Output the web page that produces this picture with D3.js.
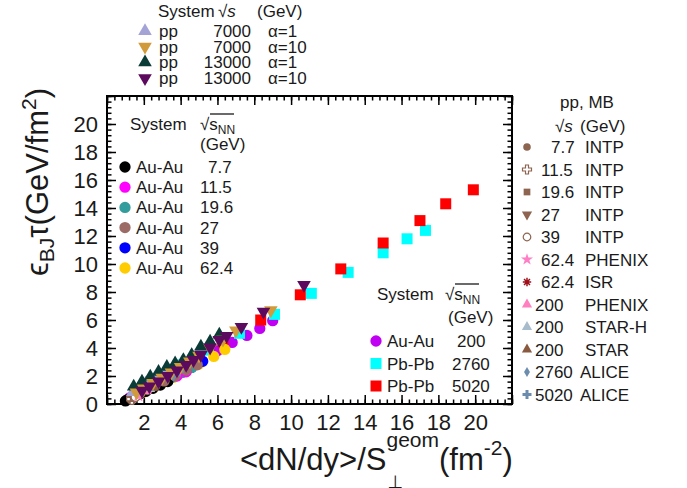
<!DOCTYPE html>
<html>
<head>
<meta charset="utf-8">
<script src="https://cdn.jsdelivr.net/npm/d3@7"></script>
<style>
  body { margin: 0; background: #fff; }
  text { font-family: "Liberation Sans", Arial, Helvetica, sans-serif; fill: #1a1a1a; }
</style>
</head>
<body>
<svg id="plot"></svg>
<script>
// ---- axes
var xMax = 22, yMax = 22;
var xTickLabels = [2, 4, 6, 8, 10, 12, 14, 16, 18, 20];
var yTickLabels = [0, 2, 4, 6, 8, 10, 12, 14, 16, 18, 20];

// ---- Au-Au BES (sqrt(sNN) = 7.7 ... 62.4 GeV)
var auAu7X  = [3.3, 2.9, 2.5, 2.1, 1.75, 1.45, 1.25, 1.1, 1.0];
var auAu7Y  = [1.6, 1.35, 1.12, 0.9, 0.7, 0.52, 0.4, 0.3, 0.22];
var auAu11X = [4.3, 3.8, 3.3, 2.8, 2.3, 1.9, 1.6, 1.35, 1.2];
var auAu11Y = [2.3, 2.0, 1.7, 1.38, 1.08, 0.85, 0.66, 0.52, 0.42];
var auAu19X = [4.6, 4.1, 3.5, 3.0, 2.5, 2.1, 1.75, 1.5, 1.3];
var auAu19Y = [2.6, 2.25, 1.9, 1.55, 1.25, 0.98, 0.76, 0.6, 0.48];
var auAu27X = [4.9, 4.3, 3.7, 3.1, 2.6, 2.2, 1.8, 1.55, 1.35];
var auAu27Y = [2.8, 2.42, 2.02, 1.65, 1.33, 1.05, 0.8, 0.63, 0.5];
var auAu39X = [5.2, 4.6, 3.9, 3.3, 2.8, 2.3, 1.9, 1.6, 1.4];
var auAu39Y = [3.05, 2.62, 2.18, 1.78, 1.44, 1.12, 0.86, 0.67, 0.53];
var auAu62X = [6.4, 5.8, 5.0, 4.3, 3.6, 3.0, 2.5, 2.0, 1.7];
var auAu62Y = [3.9, 3.4, 2.85, 2.35, 1.9, 1.5, 1.15, 0.85, 0.68];

// ---- Au-Au 200, Pb-Pb 2760, Pb-Pb 5020
var auAu200X  = [9.0, 8.3, 7.6, 6.8, 6.0, 5.1, 4.3, 3.5, 2.8, 2.2, 1.7];
var auAu200Y  = [5.95, 5.4, 4.9, 4.4, 3.8, 3.15, 2.6, 2.05, 1.58, 1.18, 0.86];
var pbPb2760X = [17.3, 16.3, 15.0, 13.1, 11.1, 9.1, 7.2, 5.5, 4.1, 2.9];
var pbPb2760Y = [12.4, 11.8, 10.8, 9.4, 7.9, 6.4, 5.05, 3.85, 2.8, 1.9];
var pbPb5020X = [19.9, 18.4, 17.0, 15.0, 12.7, 10.5, 8.35, 6.3, 4.8, 3.5, 2.4];
var pbPb5020Y = [15.3, 14.3, 13.1, 11.5, 9.65, 7.8, 6.0, 4.45, 3.3, 2.3, 1.5];

// ---- pp high multiplicity, 7 and 13 TeV
var pp7a1X   = [5.1, 4.6, 4.1, 3.6, 3.1, 2.6, 2.1, 1.7, 1.4];
var pp7a1Y   = [3.95, 3.5, 3.05, 2.65, 2.25, 1.85, 1.45, 1.1, 0.85];
var pp7a10X  = [8.9, 7.0, 6.3, 5.6, 5.0, 4.5, 4.0, 3.5, 3.0, 2.5, 2.0, 1.6];
var pp7a10Y  = [6.7, 5.25, 4.6, 4.0, 3.45, 3.05, 2.65, 2.25, 1.88, 1.5, 1.12, 0.82];
var pp13a1X  = [6.1, 5.6, 5.1, 4.6, 4.15, 3.7, 3.25, 2.8, 2.35, 1.9, 1.45];
var pp13a1Y  = [4.95, 4.45, 4.1, 3.5, 3.14, 2.9, 2.65, 2.3, 1.95, 1.6, 1.25];
var pp13a10X = [10.7, 8.5, 7.3, 6.5, 6.1, 5.6, 5.1, 4.7, 4.3, 3.8, 3.3, 2.8, 2.3, 1.9];
var pp13a10Y = [8.5, 6.6, 5.5, 4.86, 4.57, 4.05, 3.5, 3.14, 2.79, 2.4, 2.0, 1.62, 1.25, 0.95];

// ---- pp minimum bias
var mbEnergies = ["7.7", "11.5", "19.6", "27", "39", "62.4", "62.4", "200", "200", "200", "2760", "5020"];
var mbSources  = ["INTP", "INTP", "INTP", "INTP", "INTP", "PHENIX", "ISR", "PHENIX", "STAR-H", "STAR", "ALICE", "ALICE"];
var mbX = [1.3, 1.35, 1.45, 1.5, 1.55, 1.7, 1.95, 2.1, 2.3, 2.5, 3.6, 3.9];
var mbY = [0.3, 0.35, 0.42, 0.45, 0.5, 0.6, 1.0, 0.95, 1.1, 1.2, 2.1, 2.35];

// ---- legend texts
var ppSystems  = ["pp", "pp", "pp", "pp"];
var ppEnergies = ["7000", "7000", "13000", "13000"];
var ppAlphas   = ["\u03b1=1", "\u03b1=10", "\u03b1=1", "\u03b1=10"];
var besSystems  = ["Au-Au", "Au-Au", "Au-Au", "Au-Au", "Au-Au", "Au-Au"];
var besEnergies = ["7.7", "11.5", "19.6", "27", "39", "62.4"];
var hiSystems  = ["Au-Au", "Pb-Pb", "Pb-Pb"];
var hiEnergies = ["200", "2760", "5020"];

// ---- styles
var ppStyle  = [{shape: "triUp", color: "#a3a3d6"}, {shape: "triDown", color: "#d19b3c"},
                {shape: "triUp", color: "#0b3b36"}, {shape: "triDown", color: "#5c0a5e"}];
var besStyle = ["#000000", "#ff00ff", "#339c9c", "#9c6b66", "#0000ff", "#ffcc00"];
var hiStyle  = [{shape: "circle", color: "#c000f2"}, {shape: "square", color: "#00ffff"}, {shape: "square", color: "#ff0000"}];
var mbStyle  = [{shape: "circle", color: "#8c6450"}, {shape: "openCross", color: "#8c6450"},
                {shape: "square", color: "#8c6450"}, {shape: "triDown", color: "#8c6450"},
                {shape: "openCircle", color: "#8c6450"}, {shape: "star", color: "#ff7fc4"},
                {shape: "asterisk", color: "#a0101a"}, {shape: "triUp", color: "#ff7fbf"},
                {shape: "triUp", color: "#a8bccc"}, {shape: "triUp", color: "#8a5a40"},
                {shape: "diamond", color: "#6c8cae"}, {shape: "cross", color: "#6c8cae"}];

var W = 687, H = 488;
var x = d3.scaleLinear().domain([0, xMax]).range([107, 512]);
var y = d3.scaleLinear().domain([0, yMax]).range([404, 96]);

var svg = d3.select('#plot').attr('width', W).attr('height', H);

var symTypes = {circle: d3.symbolCircle, openCircle: d3.symbolCircle, square: d3.symbolSquare,
  triUp: d3.symbolTriangle, triDown: d3.symbolTriangle, cross: d3.symbolCross,
  openCross: d3.symbolCross, diamond: d3.symbolDiamond, star: d3.symbolStar};
var bigSize = {circle: 100, square: 121, triUp: 80, triDown: 80};

function marker(g, shape, color, size, cx, cy) {
  if (shape === 'asterisk') {
    var r = Math.sqrt(size) / 1.6, p = '';
    for (var k = 0; k < 4; k++) {
      var a = k * Math.PI / 4;
      p += 'M' + (-r * Math.cos(a)) + ',' + (-r * Math.sin(a)) + 'L' + (r * Math.cos(a)) + ',' + (r * Math.sin(a));
    }
    g.append('path').attr('d', p).attr('transform', 'translate(' + cx + ',' + cy + ')')
      .attr('stroke', color).attr('stroke-width', 1.5).attr('fill', 'none');
    return;
  }
  var open = shape === 'openCircle' || shape === 'openCross';
  g.append('path')
    .attr('d', d3.symbol().type(symTypes[shape]).size(size)())
    .attr('transform', 'translate(' + cx + ',' + cy + ')' + (shape === 'triDown' ? ' rotate(180)' : ''))
    .attr('fill', open ? '#fff' : color)
    .attr('stroke', open ? color : 'none')
    .attr('stroke-width', 1.2);
}

// ---- frame and ticks (ticks inside on all four sides)
var axes = svg.append('g');
function ticks(axis, tr, vals, len, fmt) {
  var g = axes.append('g').attr('transform', tr)
    .call(axis.tickValues(vals).tickSize(-len).tickPadding(10).tickFormat(fmt));
  g.select('.domain').remove();
  g.selectAll('line').attr('stroke', '#000').attr('stroke-width', 1.5);
  g.selectAll('text').style('font-size', '22px').attr('fill', '#1a1a1a')
    .style('font-family', '"Liberation Sans", Arial, sans-serif');
  return g;
}
var major = d3.range(0, 22.01, 2), minor = d3.range(0, 22.01, 0.4);
var none = function() { return ''; };
ticks(d3.axisBottom(x), 'translate(0,404)', minor, 4.5, none);
ticks(d3.axisBottom(x), 'translate(0,404)', major, 9, function(d) { return xTickLabels.indexOf(d) >= 0 ? d : ''; });
ticks(d3.axisTop(x), 'translate(0,96)', minor, 4.5, none);
ticks(d3.axisTop(x), 'translate(0,96)', major, 9, none);
ticks(d3.axisLeft(y), 'translate(107,0)', minor, 4.5, none);
ticks(d3.axisLeft(y), 'translate(107,0)', major, 9, function(d) { return yTickLabels.indexOf(d) >= 0 ? d : ''; })
  .selectAll('text').attr('x', -9);
ticks(d3.axisRight(y), 'translate(512,0)', minor, 4.5, none);
ticks(d3.axisRight(y), 'translate(512,0)', major, 9, none);
axes.append('rect').attr('x', 107).attr('y', 96).attr('width', 405).attr('height', 308)
  .attr('fill', 'none').attr('stroke', '#000').attr('stroke-width', 2);

// ---- data points
var pts = svg.append('g');
function drawSeries(xs, ys, shape, color, size) {
  xs.forEach(function(v, i) { marker(pts, shape, color, size, x(v), y(ys[i])); });
}
drawSeries(auAu200X, auAu200Y, 'circle', hiStyle[0].color, bigSize.circle);
drawSeries(pbPb2760X, pbPb2760Y, 'square', hiStyle[1].color, bigSize.square);
drawSeries(pbPb5020X, pbPb5020Y, 'square', hiStyle[2].color, bigSize.square);
[[auAu62X, auAu62Y, 5], [auAu39X, auAu39Y, 4], [auAu19X, auAu19Y, 2],
 [auAu11X, auAu11Y, 1], [auAu7X, auAu7Y, 0], [auAu27X, auAu27Y, 3]].forEach(function(s) {
  drawSeries(s[0], s[1], 'circle', besStyle[s[2]], bigSize.circle);
});
mbX.forEach(function(v, i) { marker(pts, mbStyle[i].shape, mbStyle[i].color, 60, x(v), y(mbY[i])); });
drawSeries(pp7a1X, pp7a1Y, 'triUp', ppStyle[0].color, bigSize.triUp);
drawSeries(pp13a1X, pp13a1Y, 'triUp', ppStyle[2].color, bigSize.triUp);
drawSeries(pp7a10X, pp7a10Y, 'triDown', ppStyle[1].color, bigSize.triDown);
drawSeries(pp13a10X, pp13a10Y, 'triDown', ppStyle[3].color, bigSize.triDown);

// ---- legends
var leg = svg.append('g').style('font-size', '17px');
function txt(s, tx, ty, anchor) {
  return leg.append('text').attr('x', tx).attr('y', ty).attr('text-anchor', anchor || 'start').text(s);
}
function sqrtS(tx, ty, sub) {
  var t = leg.append('text').attr('x', tx).attr('y', ty);
  t.append('tspan').text('\u221a');
  t.append('tspan').style('font-style', sub ? 'normal' : 'italic').text('s');
  if (sub) {
    t.append('tspan').attr('dy', 4).style('font-size', '12px').text(sub);
    leg.append('line').attr('x1', tx + 10).attr('x2', tx + 34).attr('y1', ty - 16).attr('y2', ty - 16)
      .attr('stroke', '#1a1a1a').attr('stroke-width', 1.3);
  }
}

// top legend: pp 7 / 13 TeV
txt('System', 158, 17);
sqrtS(218, 17);
txt('(GeV)', 257, 17);
ppSystems.forEach(function(s, i) {
  var cy = 31 + i * 15.7;
  marker(leg, ppStyle[i].shape, ppStyle[i].color, 80, 145, cy);
  txt(s, 159, cy + 6);
  txt(ppEnergies[i], 251, cy + 6, 'end');
  txt(ppAlphas[i], 268, cy + 6);
});

// inner left legend: Au-Au BES
txt('System', 130, 130);
sqrtS(200, 130, 'NN');
txt('(GeV)', 200, 150);
besSystems.forEach(function(s, i) {
  var cy = 167 + i * 20.2;
  marker(leg, 'circle', besStyle[i], 100, 125, cy);
  txt(s, 136, cy + 6);
  txt(besEnergies[i], besEnergies[i].length === 3 ? 208 : 200, cy + 6);
});

// inner bottom-right legend: Au-Au 200 / Pb-Pb
txt('System', 377, 300);
sqrtS(445, 300, 'NN');
txt('(GeV)', 448, 323);
hiSystems.forEach(function(s, i) {
  var cy = 341 + i * 22.5;
  marker(leg, hiStyle[i].shape, hiStyle[i].color, i === 0 ? 100 : 121, 376, cy);
  txt(s, 387, cy + 6);
  txt(hiEnergies[i], hiEnergies[i].length === 3 ? 457 : 452, cy + 6);
});

// right legend: pp minimum bias
txt('pp, MB', 587, 108, 'middle');
sqrtS(555, 132);
txt('(GeV)', 580, 132);
mbEnergies.forEach(function(e, i) {
  var cy = 147 + i * 22.5;
  marker(leg, mbStyle[i].shape, mbStyle[i].color, mbStyle[i].shape === 'diamond' ? 30 : 45, 527, cy);
  var nx = e.length === 3 && e.indexOf('.') > 0 ? 551 : (e.indexOf('.') < 0 && e.length >= 3 ? 535 : 541);
  txt(e, nx, cy + 6);
  txt(mbSources[i], e.length === 4 && e.indexOf('.') < 0 ? 580 : 585, cy + 6);
});

// ---- axis titles
var xt = svg.append('text').attr('x', 240).attr('y', 470).style('font-size', '31px');
var xs1 = xt.append('tspan').text('<dN/dy>/S');
xt.append('tspan').attr('dy', -23).style('font-size', '21px').text('geom');
xt.append('tspan').attr('dy', 23).text('(fm');
xt.append('tspan').attr('dy', -15).style('font-size', '21px').text('-2');
xt.append('tspan').attr('dy', 15).text(')');
svg.append('text').attr('x', 240 + xs1.node().getComputedTextLength() + 1).attr('y', 488)
  .style('font-size', '18px').style('font-family', '"DejaVu Sans", sans-serif').text('\u22a5');

var yt = svg.append('text').attr('transform', 'translate(48,88) rotate(-90)')
  .attr('text-anchor', 'end').style('font-size', '31px');
yt.append('tspan').text('\u03f5');
yt.append('tspan').attr('dy', 6).style('font-size', '21px').text('BJ');
yt.append('tspan').attr('dy', -6).text('\u03c4(GeV/fm');
yt.append('tspan').attr('dy', -12).style('font-size', '21px').text('2');
yt.append('tspan').attr('dy', 12).text(')');
</script>
</body>
</html>
